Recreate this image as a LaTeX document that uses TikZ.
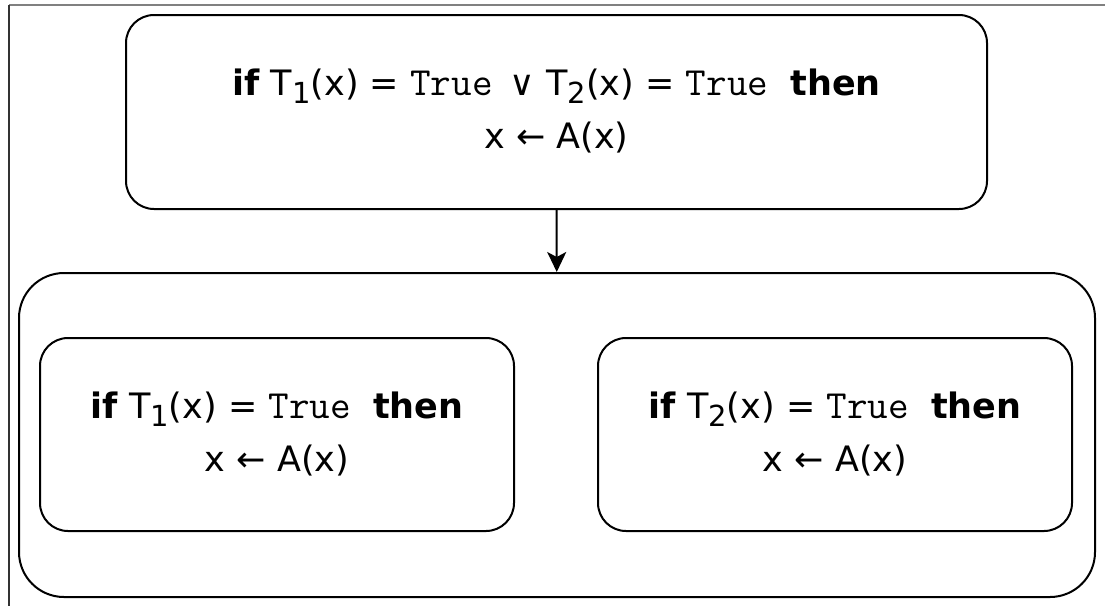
\documentclass[tikz,border=0pt]{standalone}
\usepackage{fontspec}
\setmainfont{DejaVu Sans}
\usepackage{tikz}
\usetikzlibrary{positioning}
\usetikzlibrary{shapes,calc,arrows.meta}
\newcommand{\tru}{{\fontsize{40}{40}\ttfamily True}}
\newcommand{\lowsub}[1]{\raisebox{-8pt}{\fontsize{29}{29}\selectfont #1}}

\begin{document}
\begin{tikzpicture}[x=1pt,y=-1pt,line width=2pt,
  box/.style={draw,rounded corners=28pt,align=center,inner sep=0pt,
    font=\fontsize{35}{53}\selectfont}]
\useasboundingbox (0,0) rectangle (1105,606);
% frame of the page
\draw[gray,line width=1.5pt] (9,5) -- (1105,5);
\draw[black!80,line width=1.5pt] (9,5) -- (9,606);
\node[box,minimum width=861pt,minimum height=194pt] at (556.5,112) (Top)
  {\textbf{if} T\lowsub{1}(x) = \tru{} \,∨ T\lowsub{2}(x) = \tru{} \ \textbf{then}\\ x ← A(x)\vphantom{p}};
\node[draw,rounded corners=45pt,minimum width=1076pt,minimum height=324pt] at (557,435) (Outer) {};
\node[box,minimum width=474pt,minimum height=193pt] at (277,434.5) (Lone)
  {\textbf{if} T\lowsub{1}(x) = \tru{} \ \textbf{then}\\ x ← A(x)};
\node[box,minimum width=474pt,minimum height=193pt] at (835,434.5) (Ltwo)
  {\textbf{if} T\lowsub{2}(x) = \tru{} \ \textbf{then}\\ x ← A(x)};
\draw[-{Stealth[length=20pt,width=19pt,inset=5pt]}] (Top) -- (Outer);
\end{tikzpicture}
\end{document}
